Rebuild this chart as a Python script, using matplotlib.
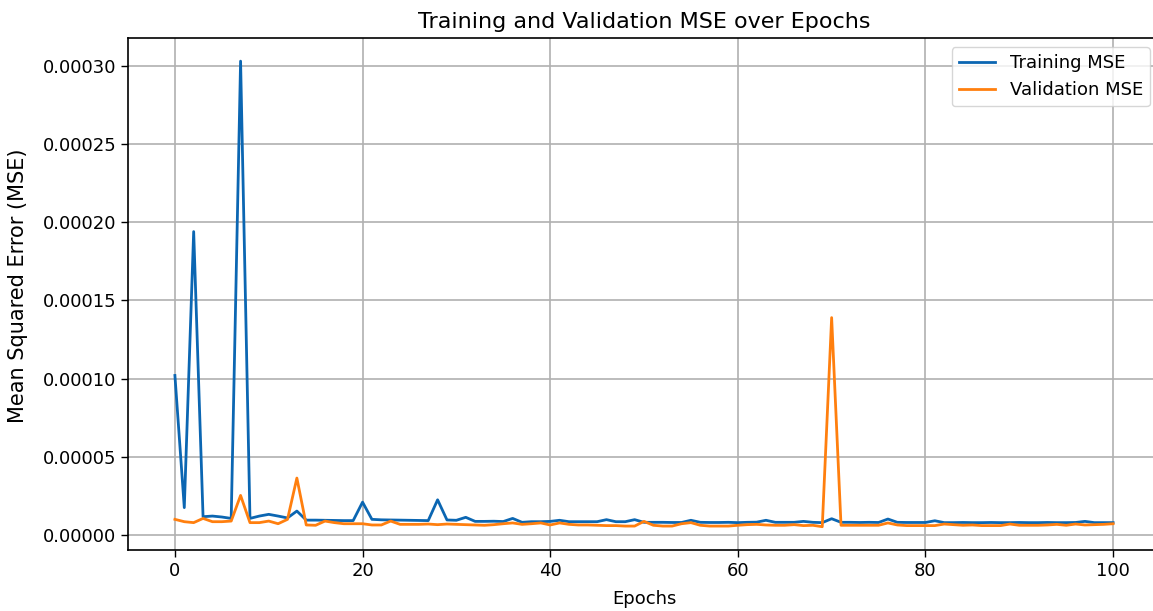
#!/usr/bin/env python3
# Training / validation MSE curves over 100 epochs
import matplotlib
matplotlib.use('Agg')
import matplotlib.pyplot as plt
from matplotlib.ticker import FormatStrFormatter, MultipleLocator

# values read in units of 1e-5
train_mse = [10.2, 1.75, 19.4, 1.17, 1.21, 1.15, 1.06, 30.3, 1.06, 1.21,
             1.32, 1.21, 1.09, 1.53, 0.95, 0.95, 0.94, 0.93, 0.92, 0.92,
             2.1, 1.0, 0.97, 0.96, 0.95, 0.94, 0.93, 0.92, 2.25, 0.96,
             0.94, 1.13, 0.87, 0.87, 0.88, 0.86, 1.06, 0.81, 0.85, 0.85,
             0.87, 0.94, 0.85, 0.85, 0.85, 0.85, 0.98, 0.85, 0.85, 0.98,
             0.81, 0.81, 0.81, 0.80, 0.80, 0.94, 0.81, 0.80, 0.80, 0.81,
             0.79, 0.81, 0.82, 0.94, 0.81, 0.81, 0.81, 0.87, 0.81, 0.79,
             1.04, 0.81, 0.81, 0.80, 0.81, 0.80, 1.02, 0.81, 0.80, 0.80,
             0.80, 0.91, 0.79, 0.79, 0.80, 0.79, 0.79, 0.80, 0.79, 0.79,
             0.80, 0.79, 0.79, 0.80, 0.79, 0.79, 0.80, 0.87, 0.79, 0.79,
             0.79]
val_mse = [1.0, 0.85, 0.79, 1.06, 0.85, 0.85, 0.89, 2.53, 0.79, 0.79,
           0.89, 0.72, 1.0, 3.64, 0.64, 0.62, 0.89, 0.79, 0.72, 0.72,
           0.72, 0.64, 0.64, 0.89, 0.68, 0.68, 0.68, 0.70, 0.66, 0.70,
           0.68, 0.66, 0.64, 0.62, 0.66, 0.72, 0.77, 0.68, 0.72, 0.77,
           0.64, 0.77, 0.68, 0.64, 0.64, 0.62, 0.60, 0.60, 0.57, 0.57,
           0.87, 0.62, 0.57, 0.57, 0.72, 0.79, 0.62, 0.57, 0.57, 0.57,
           0.62, 0.66, 0.68, 0.64, 0.62, 0.62, 0.66, 0.60, 0.62, 0.53,
           13.9, 0.62, 0.62, 0.62, 0.62, 0.62, 0.77, 0.64, 0.60, 0.60,
           0.60, 0.60, 0.70, 0.66, 0.62, 0.64, 0.60, 0.60, 0.60, 0.70,
           0.62, 0.62, 0.62, 0.64, 0.68, 0.62, 0.70, 0.64, 0.66, 0.68,
           0.72]
epochs = list(range(len(train_mse)))
train_mse = [v * 1e-5 for v in train_mse]
val_mse = [v * 1e-5 for v in val_mse]

fig = plt.figure(figsize=(11.53, 6.11), dpi=100)
ax = fig.add_axes([128 / 1153, 61 / 611, 1032 / 1153, 512 / 611])

ax.plot(epochs, train_mse, color='#0b66b2', lw=2, label='Training MSE')
ax.plot(epochs, val_mse, color='#ff7f0e', lw=2, label='Validation MSE')

ax.set_xlim(-5, 105)
ax.set_ylim(-0.96e-5, 0.0003178)
ax.xaxis.set_major_locator(MultipleLocator(20))
ax.yaxis.set_major_locator(MultipleLocator(0.00005))
ax.yaxis.set_major_formatter(FormatStrFormatter('%.5f'))
ax.tick_params(labelsize=13, length=5, width=1)
ax.grid(True, color='#b0b0b0', lw=1.2)
for s in ax.spines.values():
    s.set_linewidth(1.2)

ax.set_title('Training and Validation MSE over Epochs', fontsize=16, pad=7)
ax.set_xlabel('Epochs', fontsize=13, labelpad=7.5)
ax.set_ylabel('Mean Squared Error (MSE)', fontsize=15)
ax.yaxis.set_label_coords(-0.0969, 0.517)
ax.legend(loc='upper right', bbox_to_anchor=(1150 / 1153, 1 - 47 / 611),
          bbox_transform=fig.transFigure, borderaxespad=0, fontsize=13)

plt.savefig('out.png', dpi=100)
